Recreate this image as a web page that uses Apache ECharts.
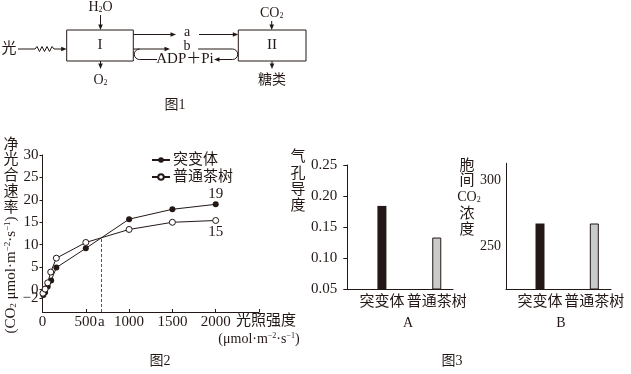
<!DOCTYPE html>
<html><head><meta charset="utf-8">
<script src="https://cdn.jsdelivr.net/npm/echarts@6/dist/echarts.min.js"></script>
<style>html,body{margin:0;padding:0;background:#fff}#c{width:631px;height:374px}</style>
</head><body><div id="c"></div>
<script>
// ---- data ----
const seriesNames = ['突变体', '普通茶树'];
const lightMutant = [10, 30, 60, 100, 160, 500, 1000, 1500, 2000];
const rateMutant = [-1.2, -0.6, 0.7, 2.0, 4.9, 9.2, 15.7, 17.9, 19];
const lightNormal = [5, 30, 60, 95, 160, 500, 1000, 1500, 2000];
const rateNormal = [-0.8, 0.1, 1.5, 3.9, 7.0, 10.5, 13.4, 15.0, 15.4];
const yTicksRate = [30, 25, 20, 15, 10, 5, 0, -2, -5];
const xTicksLight = [0, 500, 1000, 1500, 2000];
const categories = ['突变体', '普通茶树'];
const stomatalConductance = [0.184, 0.133];
const intercellularCO2 = [267, 267];
const yTicksA = [0.05, 0.10, 0.15, 0.20, 0.25];
const yTicksB = [250, 300];

// crossing point "a" of the two curves
function crossing() {
  for (let i = 0; i < lightMutant.length - 1; i++) {
    if (lightMutant[i] !== lightNormal[i] || lightMutant[i + 1] !== lightNormal[i + 1]) continue;
    const d0 = rateMutant[i] - rateNormal[i], d1 = rateMutant[i + 1] - rateNormal[i + 1];
    if (d0 * d1 < 0) {
      const t = d0 / (d0 - d1);
      return [lightMutant[i] + t * (lightMutant[i + 1] - lightMutant[i]),
              rateMutant[i] + t * (rateMutant[i + 1] - rateMutant[i])];
    }
  }
  return [700, 11.5];
}
const aPoint = crossing();

const INK = '#231815';
const F = "'Liberation Serif','Noto Sans CJK SC',serif";
const lab = (fs) => ({ fontFamily: F, fontSize: fs, color: INK });

// ---- graphic helpers ----
const els = [];
function txt(x, y, text, fs, extra) {
  els.push({ type: 'text', x, y, silent: true,
    style: Object.assign({ text, fill: INK, font: fs + 'px ' + F, align: 'center', verticalAlign: 'middle' }, extra || {}) });
}
function rich(fs) {
  return {
    n: { fontSize: fs, fontFamily: F, fill: INK },
    s: { fontSize: Math.round(fs * 0.6), fontFamily: F, fill: INK, verticalAlign: 'bottom' },
    p: { fontSize: Math.round(fs * 0.6), fontFamily: F, fill: INK, verticalAlign: 'top' }
  };
}
function rtxt(x, y, text, fs, rot) {
  els.push({ type: 'text', x, y, rotation: rot || 0, silent: true,
    style: { text, rich: rich(fs), fill: INK, font: fs + 'px ' + F, align: 'center', verticalAlign: 'middle' } });
}
function ln(x1, y1, x2, y2) {
  els.push({ type: 'line', silent: true, shape: { x1, y1, x2, y2 }, style: { stroke: INK, lineWidth: 1 } });
}
function head(x, y, dir) {
  const L = 5.5, W = 2.3;
  let pts;
  if (dir === 'r') pts = [[x, y], [x - L, y - W], [x - L, y + W]];
  if (dir === 'l') pts = [[x, y], [x + L, y - W], [x + L, y + W]];
  if (dir === 'd') pts = [[x, y], [x - W, y - L], [x + W, y - L]];
  els.push({ type: 'polygon', silent: true, shape: { points: pts }, style: { fill: INK } });
}
function box(x, y, w, h) {
  els.push({ type: 'rect', silent: true, shape: { x, y, width: w, height: h }, style: { fill: 'none', stroke: INK, lineWidth: 1 } });
}
function arc(cx, cy, r, a0, a1) {
  els.push({ type: 'arc', silent: true, shape: { cx, cy, r, startAngle: a0, endAngle: a1, clockwise: true },
    style: { fill: 'none', stroke: INK, lineWidth: 1 } });
}

// ---- figure 1 (diagram) ----
txt(9, 49, '光', 15);
els.push({ type: 'polyline', silent: true, shape: { points: [[18, 49], [35, 49], [37, 46.5], [39.5, 51.5], [42, 46.5], [44.5, 51.5], [47, 46.5], [49.5, 51.5], [52, 46.5], [54, 49], [63, 49]] },
  style: { stroke: INK, lineWidth: 1, fill: 'none' } });
head(66.7, 49, 'r');
box(66.7, 30, 66.6, 31);
box(238.3, 30, 67.7, 31);
txt(100, 45.5, 'I', 15);
txt(272, 45.5, 'II', 15, { font: '15px Liberation Serif' });
rtxt(100.5, 7, '{n|H}{s|2}{n|O}', 14);
ln(100.5, 15, 100.5, 28); head(100.5, 30, 'd');
rtxt(100.5, 80, '{n|O}{s|2}', 14);
ln(100.5, 61, 100.5, 67); head(100.5, 69, 'd');
rtxt(271.7, 13, '{n|CO}{s|2}', 14);
ln(271.7, 21, 271.7, 28); head(271.7, 30, 'd');
txt(272, 80, '糖类', 14);
ln(272, 61, 272, 67); head(272, 69, 'd');
ln(133.3, 34.5, 174, 34.5); head(176, 34.5, 'r');
txt(187, 32.5, 'a', 14);
ln(199, 34.5, 236, 34.5); head(238.3, 34.5, 'r');
ln(133.3, 49, 168, 49); head(170, 49, 'r');
txt(187, 46.5, 'b', 14);
arc(139.5, 54.25, 5.25, Math.PI / 2, Math.PI * 1.5);
ln(139.5, 59.5, 157, 59.5);
txt(185, 59.5, 'ADP＋Pi', 15);
ln(198, 49, 232.5, 49);
arc(232.5, 54.25, 5.25, -Math.PI / 2, Math.PI / 2);
ln(232.5, 59.5, 216, 59.5); head(214, 59.5, 'l');
txt(175, 105, '图1', 14);

// ---- figure 2 labels ----
els.push({ type: 'text', x: 11, y: 137, silent: true,
  style: { text: '净\n光\n合\n速\n率', fill: INK, font: '15px ' + F, align: 'center', verticalAlign: 'top', lineHeight: 15.7 } });
rtxt(11, 275, '{n|(CO}{s|2}{n| μmol·m}{p|−2}{n|·s}{p|−1}{n|)}', 15, Math.PI / 2);
txt(236, 321, '光照强度', 15, { align: 'left' });
rtxt(259, 339, '{n|(μmol·m}{p|−2}{n|·s}{p|−1}{n|)}', 14);
txt(160, 361, '图2', 14);

// ---- figure 3 labels ----
els.push({ type: 'text', x: 298, y: 149, silent: true,
  style: { text: '气\n孔\n导\n度', fill: INK, font: '15px ' + F, align: 'center', verticalAlign: 'top', lineHeight: 16.4 } });
txt(467, 166.5, '胞', 15);
txt(467, 181, '间', 15);
rtxt(469, 197, '{n|CO}{s|2}', 14);
txt(467, 214, '浓', 15);
txt(467, 230, '度', 15);
txt(408, 323, 'A', 14);
txt(561, 323, 'B', 14);
txt(452, 361, '图3', 14);

// ---- chart ----
const chart = echarts.init(document.getElementById('c'), null, { renderer: 'canvas' });
const lastM = lightMutant.length - 1, lastN = lightNormal.length - 1;
const axisLine = { show: true, onZero: false, lineStyle: { color: INK, width: 1 } };
const fmtMinus = v => (v < 0 ? '−' + (-v) : String(v));

chart.setOption({
  animation: false,
  backgroundColor: '#fff',
  textStyle: { fontFamily: F, color: INK },
  grid: [
    { left: 42.5, top: 155, width: 216.5, height: 157 },
    { left: 347.3, top: 165, width: 105.7, height: 124 },
    { left: 506, top: 163.3, width: 105, height: 125.7 }
  ],
  legend: {
    left: 146, top: 147.5, orient: 'vertical', itemWidth: 18, itemHeight: 7, itemGap: 2,
    data: seriesNames, textStyle: Object.assign(lab(15), { padding: [0, 0, 0, -2] })
  },
  xAxis: [
    { type: 'value', gridIndex: 0, min: 0, max: 2500, axisLine,
      axisTick: { show: true, inside: true, length: 3, lineStyle: { color: INK }, customValues: xTicksLight.concat([2500]) },
      axisLabel: Object.assign(lab(15), { margin: 3, customValues: [0, 500, aPoint[0], 1000, 1500, 2000],
        formatter: v => (Math.abs(v - aPoint[0]) < 1e-6 ? 'a' : String(v)) }),
      splitLine: { show: false } },
    { type: 'value', gridIndex: 1, min: -0.631, max: 1.296, axisLine,
      axisTick: { show: false },
      axisLabel: Object.assign(lab(15), { margin: 6, customValues: [0, 1], formatter: v => categories[Math.round(v)] }),
      splitLine: { show: false } },
    { type: 'value', gridIndex: 2, min: -0.626, max: 1.307, axisLine,
      axisTick: { show: false },
      axisLabel: Object.assign(lab(15), { margin: 6, customValues: [0, 1], formatter: v => categories[Math.round(v)] }),
      splitLine: { show: false } }
  ],
  yAxis: [
    { type: 'value', gridIndex: 0, min: -5, max: 30, axisLine,
      axisTick: { show: true, length: 3, lineStyle: { color: INK }, customValues: yTicksRate },
      axisLabel: Object.assign(lab(15), { margin: 4, customValues: yTicksRate, formatter: fmtMinus }),
      splitLine: { show: false } },
    { type: 'value', gridIndex: 1, min: 0.05, max: 0.25, axisLine,
      axisTick: { show: true, length: 4, lineStyle: { color: INK }, customValues: yTicksA },
      axisLabel: Object.assign(lab(15), { margin: 10, customValues: yTicksA, formatter: v => v.toFixed(2) }),
      splitLine: { show: false } },
    { type: 'value', gridIndex: 2, min: 217.4, max: 312.6, axisLine,
      axisTick: { show: false },
      axisLabel: Object.assign(lab(14), { margin: 5, customValues: yTicksB }),
      splitLine: { show: false } }
  ],
  series: [
    { type: 'line', name: seriesNames[0], xAxisIndex: 0, yAxisIndex: 0,
      data: lightMutant.map((x, i) => [x, rateMutant[i]]),
      symbol: 'circle', symbolSize: 6, itemStyle: { color: INK }, lineStyle: { color: INK, width: 1 },
      label: Object.assign(lab(15), { show: true, position: 'top', distance: 0,
        formatter: p => (p.dataIndex === lastM ? String(Math.round(p.value[1])) : '') }),
      markLine: { silent: true, symbol: ['none', 'none'], label: { show: false },
        lineStyle: { type: [3, 2], color: '#555', width: 1 },
        data: [[{ coord: [aPoint[0], -5] }, { coord: [aPoint[0], aPoint[1]] }]] },
      z: 3 },
    { type: 'line', name: seriesNames[1], xAxisIndex: 0, yAxisIndex: 0,
      data: lightNormal.map((x, i) => [x, rateNormal[i]]),
      symbol: 'circle', symbolSize: 6, itemStyle: { color: '#fff', borderColor: INK, borderWidth: 1 }, lineStyle: { color: INK, width: 1 },
      label: Object.assign(lab(15), { show: true, position: 'bottom', distance: 1,
        formatter: p => (p.dataIndex === lastN ? String(Math.round(p.value[1])) : '') }),
      z: 4 },
    { type: 'bar', xAxisIndex: 1, yAxisIndex: 1, barWidth: 9,
      data: categories.map((c, i) => ({ name: c, value: [i, stomatalConductance[i]],
        itemStyle: i === 0 ? { color: INK } : { color: '#c9caca', borderColor: INK, borderWidth: 1 } })) },
    { type: 'bar', xAxisIndex: 2, yAxisIndex: 2, barWidth: 9,
      data: categories.map((c, i) => ({ name: c, value: [i, intercellularCO2[i]],
        itemStyle: i === 0 ? { color: INK } : { color: '#c9caca', borderColor: INK, borderWidth: 1 } })) }
  ],
  graphic: { elements: els }
});
</script>
</body></html>
